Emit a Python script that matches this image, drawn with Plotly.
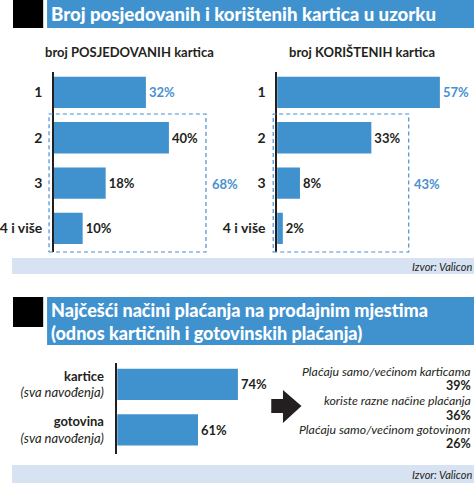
import plotly.graph_objects as go

W, H = 474, 483
def px(x): return x / W
def py(y): return 1 - y / H

FONT = "Lato"
BLUE = "#4092cf"
LBLUE = "#4a90d0"
BAND = "#d7e3f3"
DARK = "#231f20"

# ---- data ----
title1 = "Broj posjedovanih i korištenih kartica u uzorku"
sub_left = "broj POSJEDOVANIH kartica"
sub_right = "broj KORIŠTENIH kartica"
cats_top = ["1", "2", "3", "4 i više"]
owned = [32, 40, 18, 10]
used = [57, 33, 8, 2]
owned_group = "68%"
used_group = "43%"

title2 = "Najčešći načini plaćanja na prodajnim mjestima<br>(odnos kartičnih i gotovinskih plaćanja)"
cats_pay = ["kartice", "gotovina"]
cats_pay_note = ["(sva navođenja)", "(sva navođenja)"]
pay_vals = [74, 61]
split_labels = ["Plaćaju samo/većinom karticama", "koriste razne načine plaćanja", "Plaćaju samo/većinom gotovinom"]
split_vals = [39, 36, 26]
source = "Izvor: Valicon"

fig = go.Figure()

def colors_first_blue(n):
    return [LBLUE] + [DARK] * (n - 1)

fig.add_trace(go.Bar(
    x=owned, y=list(range(len(owned))), orientation="h", width=0.69,
    marker=dict(color=BLUE, line=dict(width=0)),
    text=[f"{v}%" for v in owned], textposition="outside",
    textfont=dict(family=FONT, size=13, color=colors_first_blue(len(owned)), weight="bold"),
    cliponaxis=False, hoverinfo="skip", xaxis="x", yaxis="y"))
fig.add_trace(go.Bar(
    x=used, y=list(range(len(used))), orientation="h", width=0.69,
    marker=dict(color=BLUE, line=dict(width=0)),
    text=[f"{v}%" for v in used], textposition="outside",
    textfont=dict(family=FONT, size=13, color=colors_first_blue(len(used)), weight="bold"),
    cliponaxis=False, hoverinfo="skip", xaxis="x2", yaxis="y2"))
fig.add_trace(go.Bar(
    x=pay_vals, y=list(range(len(pay_vals))), orientation="h", width=0.69,
    marker=dict(color=BLUE, line=dict(width=0)),
    text=[f"{v}%" for v in pay_vals], textposition="outside",
    textfont=dict(family=FONT, size=13, color=DARK, weight="bold"),
    cliponaxis=False, hoverinfo="skip", xaxis="x3", yaxis="y3"))

hidden_x = dict(showgrid=False, zeroline=False, showticklabels=False, showline=False, fixedrange=True)
fig.update_layout(
    width=W, height=H, margin=dict(l=0, r=0, t=0, b=0),
    paper_bgcolor="white", plot_bgcolor="rgba(0,0,0,0)", showlegend=False,
    font=dict(family=FONT, color=DARK),
    xaxis=dict(domain=[px(43), px(43 + 2.95 * 65)], range=[0, 65], anchor="y", **hidden_x),
    yaxis=dict(domain=[py(252), py(72)], range=[3.52, -0.45], anchor="x",
               tickvals=list(range(4)), ticktext=cats_top, showgrid=False, zeroline=False,
               showline=True, linecolor=DARK, linewidth=1.5, ticks="", ticklabelstandoff=7,
               tickfont=dict(family=FONT, size=14, color=DARK, weight="bold")),
    xaxis2=dict(domain=[px(272), px(272 + 2.93 * 68)], range=[0, 68], anchor="y2", **hidden_x),
    yaxis2=dict(domain=[py(252), py(72)], range=[3.52, -0.45], anchor="x2",
                tickvals=list(range(4)), ticktext=cats_top, showgrid=False, zeroline=False,
                showline=True, linecolor=DARK, linewidth=1.5, ticks="", ticklabelstandoff=7,
                tickfont=dict(family=FONT, size=14, color=DARK, weight="bold")),
    xaxis3=dict(domain=[px(108), px(108 + 3.15 * 65.3)], range=[34.7, 100], anchor="y3", **hidden_x),
    yaxis3=dict(domain=[py(454), py(363)], range=[1.53, -0.47], anchor="x3",
                tickvals=list(range(2)),
                ticktext=[f"<b>{c}</b><br><i>{n}</i>" for c, n in zip(cats_pay, cats_pay_note)],
                showgrid=False, zeroline=False, showline=True, linecolor=DARK, linewidth=1.5,
                ticks="", ticklabelstandoff=9,
                tickfont=dict(family=FONT, size=13, color=DARK)),
)

shapes = []
def rect(x0, y0, x1, y1, color):
    shapes.append(dict(type="rect", xref="paper", yref="paper", x0=px(x0), x1=px(x1),
                       y0=py(y1), y1=py(y0), fillcolor=color, line=dict(width=0), layer="below"))

rect(1, 0, 32, 28, "#000000")
rect(36, 0, 474, 28, BLUE)
rect(0, 258, 474, 274, BAND)
rect(1, 297, 32, 327, "#000000")
rect(36, 297, 474, 345, BLUE)
rect(0, 465, 474, 483, BAND)

for x0, x1 in [(38, 199), (268, 407)]:
    shapes.append(dict(type="rect", xref="paper", yref="paper", x0=px(x0), x1=px(x1),
                       y0=py(252), y1=py(114), fillcolor="rgba(0,0,0,0)",
                       line=dict(color=LBLUE, width=1.2, dash="4px,3px")))

# arrow
pts = [(266, 399), (278, 399), (278, 390), (297, 406), (278, 423), (278, 413), (266, 413)]
path = "M " + " L ".join(f"{px(x)},{py(y)}" for x, y in pts) + " Z"
shapes.append(dict(type="path", xref="paper", yref="paper", path=path,
                   fillcolor=DARK, line=dict(width=0)))
fig.update_layout(shapes=shapes)

ann = []
def text(x, y, s, size=13, color=DARK, anchor="left", weight="normal", italic=False):
    if italic:
        s = f"<i>{s}</i>"
    ann.append(dict(x=px(x), y=py(y), xref="paper", yref="paper", text=s, showarrow=False,
                    xanchor=anchor, yanchor="middle", borderpad=0,
                    font=dict(family=FONT, size=size, color=color, weight=weight)))

text(39, 14, title1, size=18.6, color="white", weight=900)
text(33, 52, sub_left, size=13, weight="bold")
text(283, 52, sub_right, size=13, weight="bold")
text(204, 184, owned_group, size=13, color=LBLUE, weight="bold")
text(411, 184, used_group, size=13, color=LBLUE, weight="bold")
text(473, 266, source, size=11, anchor="right", italic=True)
ann.append(dict(x=px(39), y=py(321), xref="paper", yref="paper", text=title2, showarrow=False,
                xanchor="left", yanchor="middle", align="left", borderpad=0,
                font=dict(family=FONT, size=18, color="white", weight=900)))
ys = [(371, 385), (400, 415), (429, 443)]
for (yl, yv), lab, v in zip(ys, split_labels, split_vals):
    text(472, yl, lab, size=12.3, anchor="right", italic=True)
    text(472, yv, f"{v}%", size=12.5, anchor="right", weight="bold")
text(473, 474, source, size=11, anchor="right", italic=True)
fig.update_layout(annotations=ann)

fig.write_html("out.html")
